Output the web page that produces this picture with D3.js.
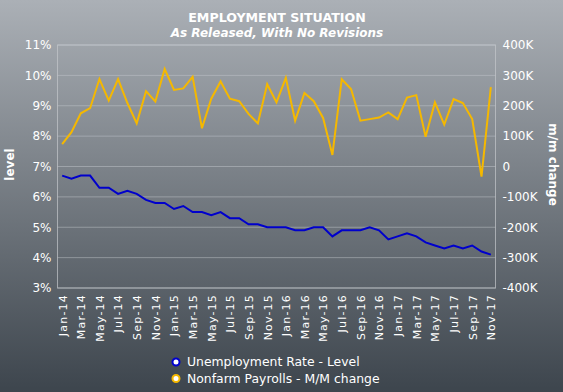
<!DOCTYPE html>
<html><head><meta charset="utf-8">
<script src="https://cdn.jsdelivr.net/npm/d3@7"></script>
<style>body{margin:0;}svg{display:block;}</style>
</head><body>
<svg id="c" width="563" height="392"></svg>
<script>
const months = ["Jan-14","Feb-14","Mar-14","Apr-14","May-14","Jun-14","Jul-14","Aug-14","Sep-14","Oct-14","Nov-14","Dec-14",
"Jan-15","Feb-15","Mar-15","Apr-15","May-15","Jun-15","Jul-15","Aug-15","Sep-15","Oct-15","Nov-15","Dec-15",
"Jan-16","Feb-16","Mar-16","Apr-16","May-16","Jun-16","Jul-16","Aug-16","Sep-16","Oct-16","Nov-16","Dec-16",
"Jan-17","Feb-17","Mar-17","Apr-17","May-17","Jun-17","Jul-17","Aug-17","Sep-17","Oct-17","Nov-17"];
const unemploymentRate = [6.7,6.6,6.7,6.7,6.3,6.3,6.1,6.2,6.1,5.9,5.8,5.8,5.6,5.7,5.5,5.5,5.4,5.5,5.3,5.3,5.1,5.1,5.0,5.0,
5.0,4.9,4.9,5.0,5.0,4.7,4.9,4.9,4.9,5.0,4.9,4.6,4.7,4.8,4.7,4.5,4.4,4.3,4.4,4.3,4.4,4.2,4.1];
const nonfarmPayrolls = [74,113,175,192,288,217,288,209,142,248,214,321,252,257,295,126,223,280,223,215,173,142,271,211,
292,151,242,215,160,38,287,255,151,156,161,178,156,227,235,98,211,138,222,209,156,-33,261];
const leftTicks = [3,4,5,6,7,8,9,10,11];
const rightTicks = [-400,-300,-200,-100,0,100,200,300,400];
const seriesNames = ["Unemployment Rate - Level","Nonfarm Payrolls - M/M change"];
const seriesColors = ["#0000cc","#f5b800"];

const svg = d3.select("#c");
const W = 563, H = 392;
const defs = svg.append("defs");
const g = defs.append("linearGradient").attr("id","bg").attr("x1",0).attr("y1",0).attr("x2",0).attr("y2",1);
g.append("stop").attr("offset","0%").attr("stop-color","#abb0b6");
g.append("stop").attr("offset","100%").attr("stop-color","#3d454d");
svg.append("rect").attr("width",W).attr("height",H).attr("fill","url(#bg)");

const L = 57.5, R = 495.5, T = 45, B = 288;
const x = d3.scalePoint().domain(months).range([L,R]).padding(0.5);
const yL = d3.scaleLinear().domain([3,11]).range([B,T]);
const yR = d3.scaleLinear().domain([-400,400]).range([B,T]);

const font = "Verdana, 'DejaVu Sans', sans-serif";

// grid
svg.append("g").selectAll("line").data(leftTicks).join("line")
  .attr("x1",L).attr("x2",R).attr("y1",d=>yL(d)).attr("y2",d=>yL(d))
  .attr("stroke","#c8ccd0").attr("stroke-opacity",0.45).attr("stroke-width",1);
svg.append("rect").attr("x",L).attr("y",T).attr("width",R-L).attr("height",B-T)
  .attr("fill","none").attr("stroke","#c4c8cc").attr("stroke-opacity",0.7);

// axes
const axL = svg.append("g").attr("transform",`translate(${L-5},0)`)
  .call(d3.axisLeft(yL).tickValues(leftTicks).tickFormat(d=>d+"%").tickSize(0).tickPadding(1));
const axR = svg.append("g").attr("transform",`translate(${R+6},0)`)
  .call(d3.axisRight(yR).tickValues(rightTicks).tickFormat(d=>d===0?"0":d+"K").tickSize(0).tickPadding(1));
const axB = svg.append("g").attr("transform",`translate(0,${B+6})`)
  .call(d3.axisBottom(x).tickValues(months.filter((d,i)=>i%2===0)).tickSize(0).tickPadding(0));
[axL,axR,axB].forEach(a=>{a.select(".domain").remove();
  a.selectAll("text").attr("fill","#ffffff").style("font-family",font).style("font-size","12px");});
axB.selectAll("text").style("font-size","11px").style("letter-spacing","1.2px")
  .attr("transform","rotate(-90)").attr("text-anchor","end").attr("dy","0.35em").attr("x",0).attr("y",0);

// axis titles
svg.append("text").attr("transform",`translate(14,${(T+B)/2-2}) rotate(-90)`).attr("text-anchor","middle")
  .attr("fill","#fff").style("font-family",font).style("font-size","12px").style("font-weight","bold").text("level");
svg.append("text").attr("transform",`translate(549,${(T+B)/2-2}) rotate(90)`).attr("text-anchor","middle")
  .attr("fill","#fff").style("font-family",font).style("font-size","12px").style("font-weight","bold").text("m/m change");

// lines
const line1 = d3.line().x((d,i)=>x(months[i])).y(d=>yL(d));
const line2 = d3.line().x((d,i)=>x(months[i])).y(d=>yR(d));
svg.append("path").datum(nonfarmPayrolls).attr("d",line2).attr("fill","none")
  .attr("stroke",seriesColors[1]).attr("stroke-width",2).attr("stroke-linejoin","miter");
svg.append("path").datum(unemploymentRate).attr("d",line1).attr("fill","none")
  .attr("stroke",seriesColors[0]).attr("stroke-width",2).attr("stroke-linejoin","miter");

// title
svg.append("text").attr("x",277).attr("y",22).attr("text-anchor","middle").attr("fill","#fff")
  .style("font-family",font).style("font-size","12.6px").style("font-weight","bold").text("EMPLOYMENT SITUATION");
svg.append("text").attr("x",277).attr("y",37).attr("text-anchor","middle").attr("fill","#fff")
  .style("font-family",font).style("font-size","12px").style("font-weight","bold").style("font-style","italic")
  .text("As Released, With No Revisions");

// legend
const lg = svg.append("g").selectAll("g").data(seriesNames).join("g")
  .attr("transform",(d,i)=>`translate(176,${362+i*16.5})`);
lg.append("circle").attr("r",3.5).attr("fill","#fff").attr("stroke",(d,i)=>seriesColors[i]).attr("stroke-width",2);
lg.append("text").attr("x",11).attr("dy","0.35em").attr("fill","#fff")
  .style("font-family",font).style("font-size","12.4px").text(d=>d);
</script>
</body></html>
